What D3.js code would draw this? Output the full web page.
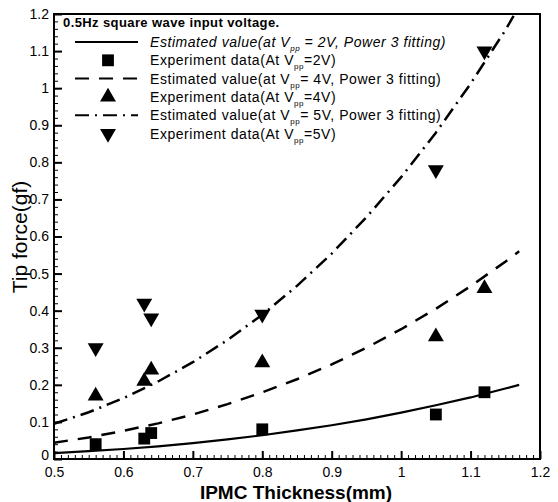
<!DOCTYPE html>
<html><head><meta charset="utf-8">
<script src="https://cdn.jsdelivr.net/npm/d3@7"></script>
<style>
body{margin:0;background:#fff;}
text{font-family:"Liberation Sans",Arial,sans-serif;}
</style></head>
<body><svg id="c" width="558" height="502"></svg>
<script>
// Data
const thickness = [0.56, 0.63, 0.64, 0.80, 1.05, 1.12];
const exp2V = [0.04, 0.055, 0.07, 0.08, 0.12, 0.18];
const exp4V = [0.17, 0.21, 0.24, 0.26, 0.33, 0.46];
const exp5V = [0.30, 0.42, 0.38, 0.39, 0.78, 1.10];
const fitX = [0.5, 0.55, 0.6, 0.65, 0.7, 0.75, 0.8, 0.85, 0.9, 0.95, 1.0, 1.05, 1.1, 1.15, 1.17];
const fit2V = [0.016, 0.021, 0.027, 0.034, 0.043, 0.053, 0.064, 0.077, 0.091, 0.107, 0.125, 0.145, 0.166, 0.190, 0.200];
const fit4V = [0.044, 0.058, 0.076, 0.096, 0.120, 0.148, 0.180, 0.215, 0.255, 0.300, 0.350, 0.405, 0.466, 0.532, 0.560];
const fit5X = [0.5, 0.55, 0.6, 0.65, 0.7, 0.75, 0.8, 0.85, 0.9, 0.95, 1.0, 1.05, 1.1, 1.15, 1.162];
const fit5V = [0.095, 0.126, 0.164, 0.209, 0.261, 0.321, 0.389, 0.467, 0.554, 0.652, 0.760, 0.880, 1.012, 1.156, 1.195];
const xTicks = [0.5, 0.6, 0.7, 0.8, 0.9, 1.0, 1.1, 1.2];
const yTicks = [0, 0.1, 0.2, 0.3, 0.4, 0.5, 0.6, 0.7, 0.8, 0.9, 1.0, 1.1, 1.2];
const legendTitle = "0.5Hz square wave input voltage.";
const legendRows = [
  {type:"line", dash:null, italic:true, pre:"Estimated value(at V", sub:"pp", post:" = 2V, Power 3 fitting)"},
  {type:"square", pre:"Experiment data(At V", sub:"pp", post:"=2V)"},
  {type:"line", dash:"14,10", pre:"Estimated value(at V", sub:"pp", post:"= 4V, Power 3 fitting)"},
  {type:"up", pre:"Experiment data(At V", sub:"pp", post:"=4V)"},
  {type:"line", dash:"14,6,2,6", pre:"Estimated value(at V", sub:"pp", post:"= 5V, Power 3 fitting)"},
  {type:"down", pre:"Experiment data(At V", sub:"pp", post:"=5V)"}
];

const svg = d3.select("#c");
const L = 54, R = 540, T = 14, B = 459;
const x = d3.scaleLinear().domain([0.5, 1.2]).range([L, R]);
const y = d3.scaleLinear().domain([0, 1.2]).range([B, T]);

// minor ticks
const gx = svg.append("g").attr("transform", `translate(0,${B})`);
gx.call(d3.axisBottom(x).tickValues(d3.range(50, 121, 1).map(v => v / 100)).tickSize(-4).tickFormat(""))
  .call(g => g.select(".domain").remove());
gx.selectAll("line").attr("stroke", "#000").attr("stroke-width", 1);
const gx2 = svg.append("g").attr("transform", `translate(0,${B})`);
gx2.call(d3.axisBottom(x).tickValues(xTicks).tickSize(-8).tickPadding(10).tickFormat(d => d3.format("")(+d.toFixed(1))))
  .call(g => g.select(".domain").remove());
gx2.selectAll("line").attr("stroke", "#000").attr("stroke-width", 2);
gx2.selectAll("text").attr("font-size", 14).attr("fill", "#000").attr("dy", "0.55em");

const gy = svg.append("g").attr("transform", `translate(${L},0)`);
gy.call(d3.axisLeft(y).tickValues(d3.range(0, 121, 2).map(v => v / 100)).tickSize(-4).tickFormat(""))
  .call(g => g.select(".domain").remove());
gy.selectAll("line").attr("stroke", "#000").attr("stroke-width", 1);
const gy2 = svg.append("g").attr("transform", `translate(${L},0)`);
gy2.call(d3.axisLeft(y).tickValues(yTicks).tickSize(-8).tickPadding(5).tickFormat(d => d3.format("")(+d.toFixed(1))))
  .call(g => g.select(".domain").remove());
gy2.selectAll("line").attr("stroke", "#000").attr("stroke-width", 2);
gy2.selectAll("text").attr("font-size", 14).attr("fill", "#000")
  .attr("dy", d => d === 0 ? "0.05em" : "0.32em");

// frame
svg.append("rect").attr("x", L).attr("y", T).attr("width", R - L).attr("height", B - T)
  .attr("fill", "none").attr("stroke", "#000").attr("stroke-width", 2);

// curves
const line = d3.line().x(d => x(d[0])).y(d => y(d[1]));
svg.append("path").attr("d", line(d3.zip(fitX, fit2V))).attr("fill", "none").attr("stroke", "#000").attr("stroke-width", 2.2);
svg.append("path").attr("d", line(d3.zip(fitX, fit4V))).attr("fill", "none").attr("stroke", "#000").attr("stroke-width", 2.5).attr("stroke-dasharray", "14,10");
svg.append("path").attr("d", line(d3.zip(fit5X, fit5V))).attr("fill", "none").attr("stroke", "#000").attr("stroke-width", 2.5).attr("stroke-dasharray", "14,6,2,6");

// markers
const sq = d3.symbol().type(d3.symbolSquare).size(140);
const tri = d3.symbol().type(d3.symbolTriangle).size(110);
svg.append("g").selectAll("path").data(d3.zip(thickness, exp2V)).join("path")
  .attr("d", sq).attr("transform", d => `translate(${x(d[0])},${y(d[1])})`).attr("fill", "#000");
svg.append("g").selectAll("path").data(d3.zip(thickness, exp4V)).join("path")
  .attr("d", tri).attr("transform", d => `translate(${x(d[0])},${y(d[1])})`).attr("fill", "#000");
svg.append("g").selectAll("path").data(d3.zip(thickness, exp5V)).join("path")
  .attr("d", tri).attr("transform", d => `translate(${x(d[0])},${y(d[1])}) rotate(180)`).attr("fill", "#000");

// legend
svg.append("text").attr("x", 63).attr("y", 27).attr("font-size", 13).attr("font-weight", "bold")
  .attr("letter-spacing", 0.4).text(legendTitle);
legendRows.forEach((r, i) => {
  const cy = 42 + i * 18.3;
  const g = svg.append("g");
  if (r.type === "line") {
    const l = g.append("line").attr("x1", 75).attr("x2", 138).attr("y1", cy).attr("y2", cy)
      .attr("stroke", "#000").attr("stroke-width", 2);
    if (r.dash) l.attr("stroke-dasharray", r.dash);
  } else if (r.type === "square") {
    g.append("path").attr("d", sq).attr("transform", `translate(108,${cy})`);
  } else if (r.type === "up") {
    g.append("path").attr("d", tri).attr("transform", `translate(108,${cy})`);
  } else {
    g.append("path").attr("d", tri).attr("transform", `translate(108,${cy}) rotate(180)`);
  }
  const t = g.append("text").attr("x", 150).attr("y", cy + 5).attr("font-size", 14).attr("letter-spacing", 0.55);
  if (r.italic) t.attr("font-style", "italic");
  t.append("tspan").text(r.pre);
  t.append("tspan").attr("font-size", 8).attr("dy", 4).text(r.sub);
  t.append("tspan").attr("dy", -4).text(r.post);
});

// axis titles
svg.append("text").attr("x", 296).attr("y", 499).attr("text-anchor", "middle")
  .attr("font-size", 19).attr("font-weight", "bold").text("IPMC Thickness(mm)");
svg.append("text").attr("transform", `translate(27,237) rotate(-90)`).attr("text-anchor", "middle")
  .attr("font-size", 21).text("Tip force(gf)");
</script></body></html>
